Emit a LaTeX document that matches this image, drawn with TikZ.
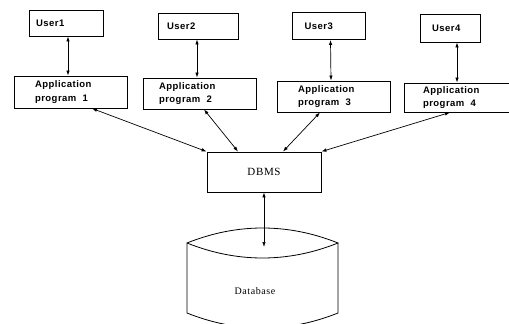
\documentclass[tikz,border=0pt]{standalone}
\usepackage{fontspec}
\setmainfont{Liberation Serif}
\newfontfamily\labfont[LetterSpace=5]{Liberation Sans}
\newfontfamily\serfont[LetterSpace=6]{Liberation Serif}
\usetikzlibrary{arrows.meta,calc}
\begin{document}
\begin{tikzpicture}[x=1pt,y=-1pt,
  box/.style={draw, line width=0.9pt, inner ysep=0pt, align=left,
    font=\labfont\bfseries\fontsize{9.5}{13.5}\selectfont},
  link/.style={line width=0.7pt, {Latex[length=5pt,width=3.5pt]}-{Latex[length=5pt,width=3.5pt]}},
]
\useasboundingbox (0,0) rectangle (509,324);
\clip (0,0) rectangle (509,324);
% users
\node[box, minimum height=26pt, inner xsep=7pt, text width=60pt] (u1) at (66,23) {User1};
\node[box, minimum height=26pt, inner xsep=9pt, text width=62pt] (u2) at (198,26) {User2};
\node[box, minimum height=27pt, inner xsep=12pt, text width=49pt] (u3) at (329,26) {User3};
\node[box, minimum height=28pt, inner xsep=12pt, text width=36pt] (u4) at (450,28) {User4};
% application programs
\node[box, minimum height=32pt, inner xsep=21pt, text width=71pt] (a1) at (70.5,92) {Application\\program\ \ 1};
\node[box, minimum height=31pt, inner xsep=16pt, text width=81pt] (a2) at (199.5,93.5) {Application\\program\ \ 2};
\node[box, minimum height=31pt, inner xsep=21pt, text width=71pt] (a3) at (333.5,96.5) {Application\\program\ \ 3};
\node[box, minimum height=29pt, inner xsep=19pt, text width=75pt] (a4) at (460.5,97.5) {Application\\program\ \ 4};
% DBMS
\node[draw, line width=0.9pt, minimum width=114pt, minimum height=40pt,
  font=\serfont\fontsize{11}{13}\selectfont] (dbms) at (264,172) {DBMS};
% database
\draw[line width=0.8pt] (187,243) .. controls (237,223) and (288,223) .. (338,243)
  .. controls (288,263) and (237,263) .. (187,243) -- (187,313)
  .. controls (237,333) and (288,333) .. (338,313) -- (338,243);
\node[font=\serfont\fontsize{10}{12}\selectfont] (dbtext) at (255,291) {Database};
\coordinate (dbtip) at (264,247);
% connectors
\draw[link] ([xshift=2pt]u1.south) -- ([xshift=-2.5pt]a1.north);
\draw[link] ([xshift=-1pt]u2.south) -- ([xshift=-2.5pt]a2.north);
\draw[link] ([xshift=1.5pt]u3.south) -- ([xshift=-2.5pt]a3.north);
\draw[link] ([xshift=7pt]u4.south) -- ([xshift=-3.5pt]a4.north);
\draw[link] ([xshift=21.5pt]a1.south) -- (dbms.north west);
\draw[link] ([xshift=4.5pt]a2.south) -- ([xshift=-26pt]dbms.north);
\draw[link] ([xshift=-13.5pt]a3.south) -- ([xshift=19pt]dbms.north);
\draw[link] ([xshift=-10.5pt]a4.south) -- (dbms.north east);
\draw[link] (dbms.south) -- (dbtip);
\end{tikzpicture}
\end{document}
